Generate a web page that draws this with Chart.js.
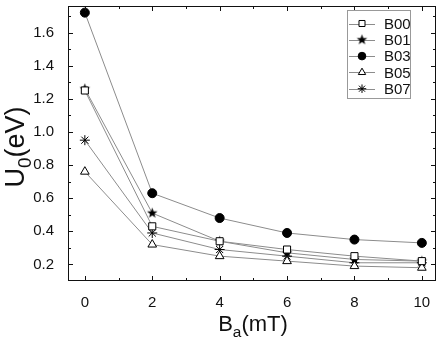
<!DOCTYPE html>
<html>
<head>
<meta charset="utf-8">
<script src="https://cdn.jsdelivr.net/npm/chart.js@4.4.0/dist/chart.umd.min.js"></script>
<style>
html, body { margin: 0; padding: 0; background: #fff; }
#c { display: block; }
</style>
</head>
<body>
<canvas id="c" width="442" height="339"></canvas>
<script>
// campo aplicado Ba (mT)
const fieldB = [0, 2, 4, 6, 8, 10];
const seriesNames = ["B00", "B01", "B03", "B05", "B07"];
const b00 = [1.25, 0.43, 0.34, 0.29, 0.25, 0.22];
const b01 = [1.26, 0.51, 0.34, 0.27, 0.23, 0.22];
const b03 = [1.72, 0.63, 0.48, 0.39, 0.35, 0.33];
const b05 = [0.76, 0.32, 0.25, 0.22, 0.19, 0.18];
const b07 = [0.95, 0.39, 0.29, 0.25, 0.21, 0.21];
const xTicks = [0, 2, 4, 6, 8, 10];
const xMinor = [1, 3, 5, 7, 9];
const yTicks = [0.2, 0.4, 0.6, 0.8, 1.0, 1.2, 1.4, 1.6];
const yMinor = [0.3, 0.5, 0.7, 0.9, 1.1, 1.3, 1.5, 1.7];

const FONT = "'Liberation Sans', Arial, sans-serif";

// estrella rellena de 5 puntas (no existe en Chart.js)
function starImg(r) {
	const s = Math.ceil(r * 2) + 2;
	const c = document.createElement("canvas");
	c.width = s; c.height = s;
	const g = c.getContext("2d");
	g.fillStyle = "#000";
	g.beginPath();
	for (let i = 0; i < 10; i++) {
		const rad = i % 2 ? r * 0.42 : r;
		const a = -Math.PI / 2 + i * Math.PI / 5;
		g.lineTo(s / 2 + rad * Math.cos(a), s / 2 + rad * Math.sin(a));
	}
	g.closePath();
	g.fill();
	return c;
}

const allValues = [b00, b01, b03, b05, b07];
const styles = [
	{ pointStyle: "rect", radius: 5, fill: "#fff" },
	{ pointStyle: starImg(5.5), radius: 5, fill: "#000" },
	{ pointStyle: "circle", radius: 4.5, fill: "#000" },
	{ pointStyle: "triangle", radius: 5, fill: "#fff" },
	{ pointStyle: "star", radius: 5, fill: "#fff" }
];

const datasets = seriesNames.map((name, i) => ({
	label: name,
	data: fieldB.map((x, j) => ({ x: x, y: allValues[i][j] })),
	showLine: true,
	borderColor: "#8c8c8c",
	borderWidth: 1,
	pointStyle: styles[i].pointStyle,
	pointRadius: styles[i].radius,
	pointBackgroundColor: styles[i].fill,
	pointBorderColor: "#000",
	pointBorderWidth: 1
}));

function drawRich(ctx, parts, size) {
	let total = 0;
	const w = parts.map(p => {
		ctx.font = (p[1] ? size * 0.7 : size) + "px " + FONT;
		const m = ctx.measureText(p[0]).width;
		total += m;
		return m;
	});
	let x = -total / 2;
	parts.forEach((p, i) => {
		ctx.font = (p[1] ? size * 0.7 : size) + "px " + FONT;
		ctx.fillText(p[0], x, p[1] ? size * 0.25 : 0);
		x += w[i];
	});
}

const framePlugin = {
	id: "frame",
	afterDraw(chart) {
		const ctx = chart.ctx;
		const a = chart.chartArea;
		const xs = chart.scales.x, ys = chart.scales.y;
		ctx.save();
		ctx.strokeStyle = "#111";
		ctx.lineWidth = 1;
		ctx.strokeRect(a.left + 0.5, a.top + 0.5, a.right - a.left - 1, a.bottom - a.top - 1);
		ctx.beginPath();
		const tx = (v, len) => {
			const p = Math.round(xs.getPixelForValue(v)) + 0.5;
			ctx.moveTo(p, a.bottom); ctx.lineTo(p, a.bottom - len);
			ctx.moveTo(p, a.top); ctx.lineTo(p, a.top + len);
		};
		const ty = (v, len) => {
			const p = Math.round(ys.getPixelForValue(v)) + 0.5;
			ctx.moveTo(a.left, p); ctx.lineTo(a.left + len, p);
			ctx.moveTo(a.right, p); ctx.lineTo(a.right - len, p);
		};
		xTicks.forEach(v => tx(v, 5));
		xMinor.forEach(v => tx(v, 3));
		yTicks.forEach(v => ty(v, 5));
		yMinor.forEach(v => ty(v, 3));
		ctx.stroke();

		// titulos de ejes con subindice
		ctx.fillStyle = "#111";
		ctx.textBaseline = "alphabetic";
		ctx.textAlign = "left";
		ctx.save();
		ctx.translate(253, 331);
		drawRich(ctx, [["B", false], ["a", true], ["(mT)", false]], 22);
		ctx.restore();
		ctx.save();
		ctx.translate(24, 147);
		ctx.rotate(-Math.PI / 2);
		drawRich(ctx, [["U", false], ["0", true], ["(eV)", false]], 27);
		ctx.restore();

		// leyenda
		const lx = 347.5, ly = 10.5, lw = 63, lh = 88;
		ctx.strokeStyle = "#999";
		ctx.strokeRect(lx, ly, lw, lh);
		ctx.font = "15px " + FONT;
		ctx.textBaseline = "middle";
		chart.data.datasets.forEach((ds, i) => {
			const y = 23.5 + i * 16.3;
			ctx.strokeStyle = "#8c8c8c";
			ctx.beginPath();
			ctx.moveTo(349, Math.round(y) + 0.5);
			ctx.lineTo(375, Math.round(y) + 0.5);
			ctx.stroke();
			ctx.fillStyle = ds.pointBackgroundColor;
			ctx.strokeStyle = "#000";
			ctx.lineWidth = 1;
			Chart.helpers.drawPoint(ctx, {
				pointStyle: ds.pointStyle,
				radius: ds.pointRadius * 0.85,
				rotation: 0,
				borderWidth: 1
			}, 362, y);
			ctx.fillStyle = "#111";
			ctx.fillText(ds.label, 384, y + 1);
		});
		ctx.restore();
	}
};

new Chart(document.getElementById("c").getContext("2d"), {
	type: "scatter",
	data: { datasets: datasets },
	options: {
		responsive: false,
		animation: false,
		devicePixelRatio: 1,
		layout: { padding: { top: 4, right: 5, left: 0, bottom: 0 } },
		plugins: {
			legend: { display: false },
			tooltip: { enabled: false }
		},
		scales: {
			x: {
				type: "linear",
				min: -0.5,
				max: 10.42,
				grid: { display: false },
				border: { display: false },
				afterBuildTicks: s => { s.ticks = xTicks.map(v => ({ value: v })); },
				afterFit: s => { s.height = 58; s.paddingLeft = 0; s.paddingRight = 0; },
				ticks: {
					padding: 5,
					color: "#111",
					font: { family: FONT, size: 15 },
					callback: v => String(v)
				}
			},
			y: {
				type: "linear",
				min: 0.1,
				max: 1.76,
				grid: { display: false },
				border: { display: false },
				afterBuildTicks: s => { s.ticks = yTicks.map(v => ({ value: v })); },
				afterFit: s => { s.width = 68; s.paddingTop = 0; s.paddingBottom = 0; },
				ticks: {
					padding: 6,
					color: "#111",
					font: { family: FONT, size: 15 },
					callback: v => v.toFixed(1)
				}
			}
		}
	},
	plugins: [framePlugin]
});
</script>
</body>
</html>
